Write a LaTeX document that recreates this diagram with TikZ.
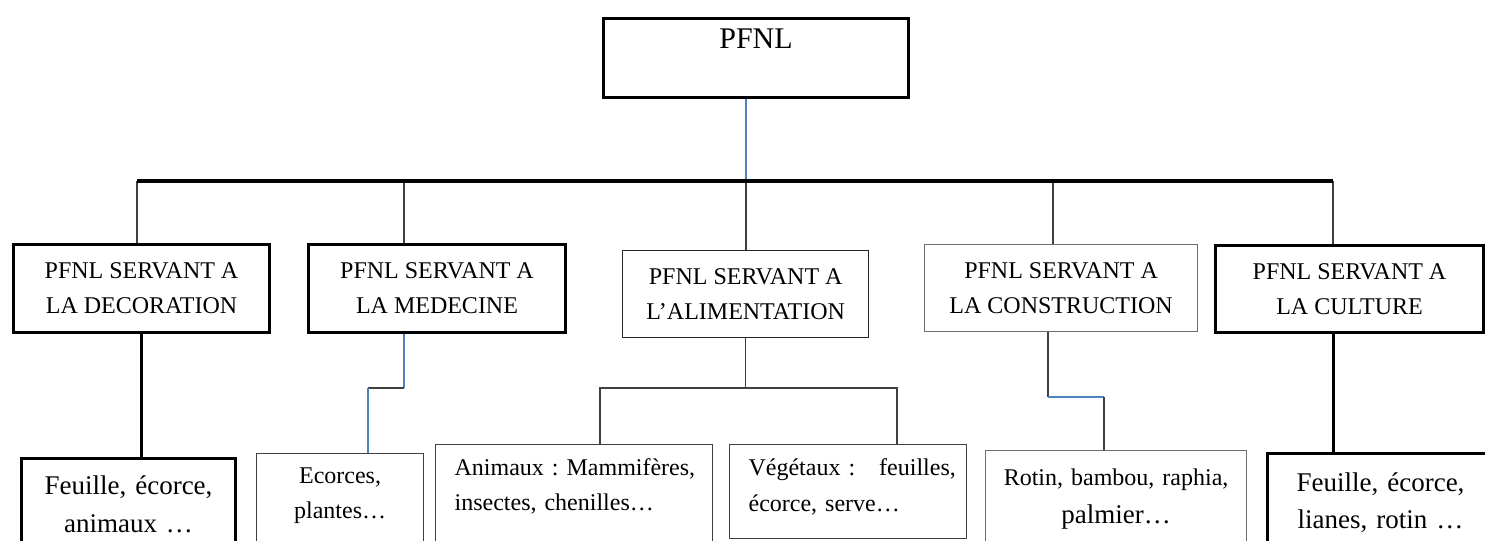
\documentclass[tikz,border=0pt]{standalone}
\usepackage{fontspec}
\setmainfont{Liberation Serif}
\usetikzlibrary{positioning}
\frenchspacing
\definecolor{wordblue}{RGB}{79,129,189}
\definecolor{linegray}{RGB}{64,64,64}
\definecolor{boxgray}{RGB}{110,110,110}
\tikzset{
  rootbox/.style={draw,line width=1.5pt,anchor=north west,minimum width=152.5pt,
    inner ysep=5pt,text height=10pt,text depth=19.5pt,font=\fontsize{15}{18}\selectfont},
  catbox/.style={draw,anchor=north west,align=center,inner sep=0pt,
    font=\fontsize{12}{17.5}\selectfont},
  leafbox/.style={draw,anchor=north west,align=center,inner xsep=4pt,inner ysep=0pt,
    font=\fontsize{12}{17.5}\selectfont},
  heavybox/.style={line width=1.5pt},
  lightbox/.style={line width=0.6pt,draw=linegray},
  link/.style={linegray,line width=0.6pt},
  boldlink/.style={black,line width=1.5pt},
  bluelink/.style={wordblue,line width=0.6pt},
}
\begin{document}
\begin{tikzpicture}[x=0.5pt,y=-0.5pt]
\path[use as bounding box] (0,0) rectangle (1485,541);
\clip (0,0) rectangle (1485,541);
% root and categories
\node[rootbox] (pfnl) at (602,17) {PFNL};
\node[catbox,heavybox,minimum width=128pt,minimum height=44pt] (dec) at (12,243)
  {PFNL SERVANT A\\LA DECORATION};
\node[catbox,heavybox,minimum width=128.5pt,minimum height=44pt] (med) at (307,243)
  {PFNL SERVANT A\\LA MEDECINE};
\node[catbox,line width=0.7pt,draw=black!85,minimum width=123pt,minimum height=43.5pt] (ali) at (622,250)
  {PFNL SERVANT A\\L’ALIMENTATION};
\node[catbox,line width=0.6pt,draw=boxgray,minimum width=136.5pt,minimum height=43.5pt] (con) at (924,244)
  {PFNL SERVANT A\\LA CONSTRUCTION};
\node[catbox,heavybox,minimum width=134pt,minimum height=43.5pt] (cul) at (1214,244)
  {PFNL SERVANT A\\LA CULTURE};
% products
\node[leafbox,heavybox,text width=99pt,text height=18pt,text depth=60pt,
  font=\fontsize{13.5}{19}\selectfont] (decleaf) at (20,457) {Feuille, écorce,\\animaux …};
\node[leafbox,lightbox,text width=75.5pt,text height=15pt,text depth=60pt] (medleaf) at (256,453)
  {Ecorces,\\plantes…};
\node[leafbox,lightbox,align=left,inner xsep=9.5pt,text width=119.5pt,text height=15.5pt,
  text depth=60pt] (animleaf) at (435,444) {\mbox{Animaux : Mammifères,}\\insectes, chenilles…};
\node[leafbox,lightbox,align=left,inner xsep=9.5pt,text width=99.5pt,text height=15.5pt,
  text depth=31.5pt,font=\fontsize{12}{18}\selectfont] (vegleaf) at (729,444)
  {\mbox{Végétaux :\ \ \ feuilles,}\\écorce, serve…};
\node[leafbox,line width=0.6pt,draw=boxgray,text width=122.5pt,text height=17.5pt,text depth=60pt]
  (conleaf) at (985,450) {Rotin, bambou, raphia,\\[1.5pt]{\fontsize{13.5}{19}\selectfont palmier…}};
\node[leafbox,heavybox,text width=105pt,text height=19pt,text depth=60pt,
  font=\fontsize{13.5}{18.5}\selectfont] (culleaf) at (1266,452) {Feuille, écorce,\\lianes, rotin …};
% junction points
\coordinate (jdec) at (137,181);
\coordinate (jmed) at (404,181);
\coordinate (jali) at (746,181);
\coordinate (jcon) at (1053,181);
\coordinate (jcul) at (1333,181);
\coordinate (medA) at (404,388);
\coordinate (medB) at (368,388);
\coordinate (aliL) at (600,388);
\coordinate (aliR) at (897,388);
\coordinate (conA) at (1048,397);
\coordinate (conB) at (1104,397);
% upper links
\draw[bluelink] (jali |- pfnl.south) -- (jali);
\draw[link] (jdec) -- (jdec |- dec.north);
\draw[link] (jmed) -- (jmed |- med.north);
\draw[link] (jali) -- (jali |- ali.north);
\draw[link] (jcon) -- (jcon |- con.north);
\draw[link] (jcul) -- (jcul |- cul.north);
\draw[black,line width=1.8pt] (jdec) -- (jcul);
% lower links
\draw[boldlink] (dec.south) -- (dec.south |- decleaf.north);
\draw[bluelink] (medA |- med.south) -- (medA);
\draw[link] (medA) -- (medB);
\draw[bluelink] (medB) -- (medB |- medleaf.north);
\draw[link] (ali.south) -- (ali.south |- aliL);
\draw[link] (aliL |- animleaf.north) -- (aliL) -- (aliR) -- (aliR |- vegleaf.north);
\draw[link] (conA |- con.south) -- (conA);
\draw[bluelink] (conA) -- (conB);
\draw[link] (conB) -- (conB |- conleaf.north);
\draw[boldlink] (jcul |- cul.south) -- (jcul |- culleaf.north);
\end{tikzpicture}
\end{document}
